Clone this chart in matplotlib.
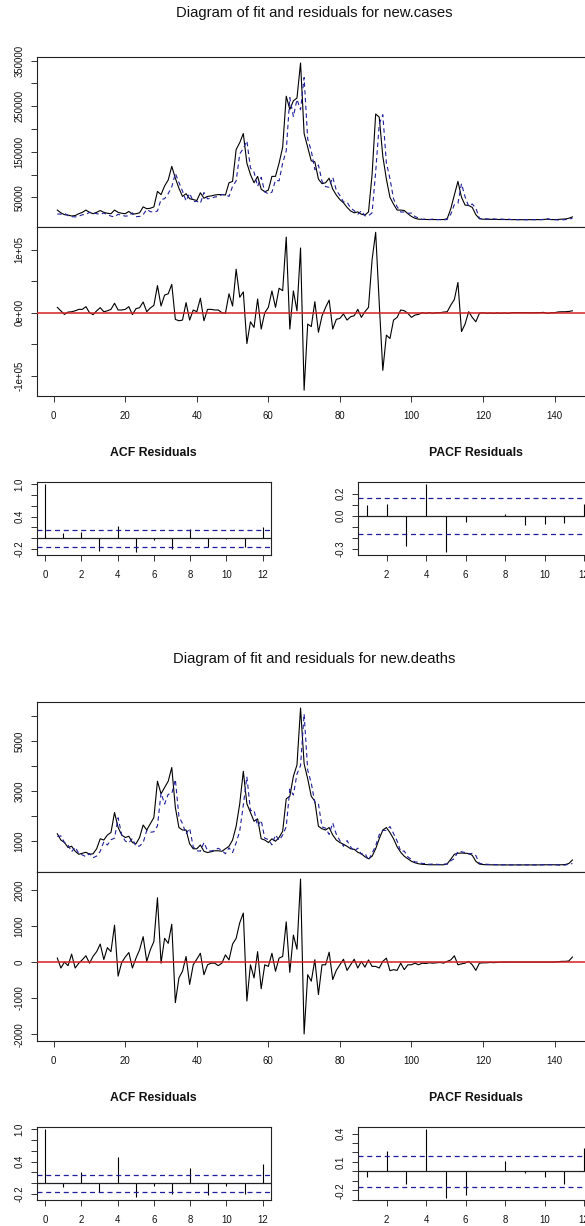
import numpy as np
import matplotlib.pyplot as plt

W, H = 585, 1226
plt.rcParams['font.family'] = ['Liberation Sans', 'DejaVu Sans']

# weekly index 1..145
weeks = np.arange(1, 146)

cases_actual = [
    22000, 16000, 12000, 11000, 9000, 10000, 14000, 17000, 22000, 17000,
    14000, 17000, 21000, 17000, 15000, 14000, 22000, 17000, 15000, 14000,
    19000, 13000, 14000, 16000, 29000, 25000, 26000, 29000, 63000, 56000,
    75000, 88000, 118000, 92000, 70000, 52000, 58000, 47000, 45000, 43000,
    60000, 48000, 52000, 53000, 55000, 56000, 56000, 55000, 82000, 85000,
    155000, 170000, 190000, 125000, 100000, 82000, 96000, 68000, 62000, 66000,
    96000, 96000, 125000, 160000, 272000, 243000, 262000, 268000, 345000, 190000,
    160000, 130000, 128000, 90000, 80000, 82000, 92000, 68000, 55000, 45000,
    38000, 28000, 20000, 16000, 18000, 13000, 11000, 18000, 100000, 233000,
    226000, 140000, 90000, 50000, 35000, 22000, 22000, 21000, 14000, 8000,
    4000, 2000, 1500, 1300, 1200, 1200, 1100, 1100, 1200, 3000,
    25000, 55000, 85000, 50000, 33000, 32000, 28000, 12000, 3000, 2000,
    1800, 1500, 1500, 1400, 1300, 1200, 1200, 1100, 1000, 1000,
    900, 900, 900, 900, 1000, 1100, 1500, 2000, 1200, 1000,
    1500, 2000, 2500, 4000, 7000]

cases_resid = [
    8500, 3000, -2700, 1000, 1500, 3000, 5300, 5300, 9600, 0,
    -3000, 3000, 8000, 1500, 3000, 5300, 15000, 4300, 4300, 5300,
    9600, -3000, 6400, 8000, 17000, 1600, 7400, 11700, 43000, 10600,
    28000, 30000, 45000, -10600, -12800, -11700, 16000, -11700, 4300, 1600,
    23000, -12800, 5300, 5300, 4300, 4300, 0, -1000, 30000, 10600,
    69000, 24500, 33000, -49000, -14400, -23400, 21800, -26000, 0, 8500,
    34600, 8500, 38800, 35000, 120000, -26000, 34600, 3000, 102700, -123000,
    -18000, -22000, 17500, -31000, -5300, 8500, 20000, -26000, -10600, -9000,
    -2000, -11700, -6400, -4800, 5300, -7400, 1600, 8500, 84000, 127600,
    15000, -91500, -35600, -41000, -11700, -7400, 4300, 3200, -1000, -7400,
    -3700, -2700, 0, -1000, 0, -1000, 0, 0, 1000, 1500,
    12000, 21000, 48000, -30000, -18000, 1600, -7400, -14400, -1000, 0,
    -1000, -500, -1200, -300, -1000, -400, -1100, 0, 200, 0,
    100, 0, -100, 0, 100, 200, 500, -1200, 0, 0,
    1200, 1500, 1500, 2000, 3000]

deaths_actual = [
    1300, 1050, 950, 750, 800, 600, 480, 520, 560, 480,
    500, 700, 1100, 1050, 1250, 1350, 2150, 1550, 1250, 1150,
    1200, 950, 900, 1150, 1650, 1450, 1700, 1950, 3400, 2900,
    3150, 3400, 3950, 2350, 1550, 1450, 1450, 900, 700, 700,
    850, 600, 550, 580, 620, 620, 600, 700, 800, 1050,
    1600, 2500, 3800, 2500, 2150, 1800, 1900, 1100, 1050, 950,
    1100, 1000, 1150, 1400, 2700, 2800, 3600, 4050, 6330, 4100,
    3500, 2800, 2600, 1600, 1500, 1450, 1550, 1250, 1050, 950,
    880, 800, 700, 680, 560, 500, 380, 300, 400, 700,
    1100, 1450, 1550, 1350, 1100, 780, 560, 400, 300, 200,
    140, 100, 80, 70, 60, 60, 60, 60, 60, 100,
    280, 480, 520, 530, 520, 510, 440, 200, 90, 70,
    60, 60, 55, 55, 55, 55, 55, 55, 55, 55,
    55, 55, 55, 55, 55, 55, 60, 60, 60, 60,
    60, 60, 70, 110, 250]

deaths_resid = [
    110, -165, 0, -100, 220, -165, -30, 65, 175, -30,
    160, 290, 500, 70, 400, 290, 1025, -390, -10, 140,
    265, -165, 110, 340, 705, 20, 340, 570, 1785, -30,
    660, 520, 1050, -1125, -440, -255, 155, -620, -75, 80,
    245, -350, -75, -30, -30, -100, -30, 200, 60, 500,
    660, 1090, 1360, -1080, -75, -440, 290, -740, -75, -120,
    245, -255, 110, 155, 1115, -285, 750, 355, 2305, -1995,
    -350, -530, 65, -900, -75, -75, 275, -485, -230, -75,
    80, -230, -75, 80, -165, 20, -140, 60, -120, -120,
    -165, 20, 110, -240, -210, -230, -30, -210, -75, -75,
    -30, -75, -30, -40, -20, -30, -20, -10, -30, 20,
    60, 175, -75, -50, -30, 20, -75, -230, -30, -20,
    -20, -10, -15, -10, 0, -5, 0, 0, 0, 0,
    0, 0, 0, 0, 0, 0, 0, 0, 0, 0,
    10, 20, 20, 30, 140]

acf_lags = np.arange(0, 13)
pacf_lags = np.arange(1, 13)
cases_acf = [1.0, 0.105, 0.11, -0.24, 0.22, -0.26, -0.04, -0.2, 0.165, -0.16, -0.01, -0.16, 0.21]
cases_pacf = [0.096, 0.105, -0.27, 0.286, -0.33, -0.06, 0.0, 0.015, -0.08, -0.072, -0.063, 0.105]
deaths_acf = [1.0, -0.06, 0.215, -0.17, 0.48, -0.26, -0.05, -0.2, 0.29, -0.21, -0.05, -0.19, 0.36]
deaths_pacf = [-0.064, 0.22, -0.134, 0.45, -0.28, -0.25, 0.0, 0.11, -0.014, -0.064, -0.134, 0.25]

conf = 1.96 / np.sqrt(len(weeks))

fig = plt.figure(figsize=(W / 100, H / 100), dpi=100)


def box(x0, y0, x1, y1):
    return fig.add_axes([x0 / W, 1 - y1 / H, (x1 - x0) / W, (y1 - y0) / H])


def style(ax):
    for s in ax.spines.values():
        s.set_linewidth(0.8)
        s.set_color('#222222')
    ax.tick_params(direction='out', length=4.3, width=0.7, labelsize=6.9,
                   color='#333333', labelcolor='#111111')
    ax.tick_params(axis='y', pad=4.5)
    ax.tick_params(axis='x', pad=6.5)


def yaxis(ax, ticks, labels):
    ax.set_yticks(ticks)
    ax.set_yticklabels(labels, rotation=90, va='center')


blue = '#1f1f9a'
red = '#d42020'


def block(dy, name, actual, resid, top_ylim, res_ylim, top_ticks, top_labels,
          res_ticks, res_labels, acf, pacf, acf_ylim, pacf_ylim,
          pacf_ticks, pacf_labels):
    actual = np.array(actual, dtype=float)
    resid = np.array(resid, dtype=float)
    fitted = actual - resid

    fig.text(314 / W, 1 - (13.5 + dy) / H, 'Diagram of fit and residuals for ' + name,
             ha='center', va='center', fontsize=10.7, color='#111111')

    ax1 = box(36.7, 56.7 + dy, 593, 226.7 + dy)
    ax1.plot(weeks, actual, color='black', lw=0.8)
    ax1.plot(weeks, fitted, color=blue, lw=0.8, dashes=(4, 3))
    ax1.set_xlim(-4.76, 150.76)
    ax1.set_ylim(*top_ylim)
    style(ax1)
    ax1.tick_params(axis='x', bottom=False, labelbottom=False)
    yaxis(ax1, top_ticks, top_labels)

    ax2 = box(36.7, 226.7 + dy, 593, 396 + dy)
    ax2.plot(weeks, resid, color='black', lw=0.8)
    ax2.axhline(0, color=red, lw=1.1, zorder=3)
    ax2.set_xlim(-4.76, 150.76)
    ax2.set_ylim(*res_ylim)
    style(ax2)
    ax2.set_xticks(np.arange(0, 141, 20))
    yaxis(ax2, res_ticks, res_labels)

    ax3 = box(36.7, 482.3 + dy, 271, 555.3 + dy)
    ax3.vlines(acf_lags, 0, acf, color='black', lw=0.8)
    ax3.axhline(0, color='#222222', lw=0.9)
    for c in (conf, -conf):
        ax3.axhline(c, color=blue, lw=0.9, dashes=(4, 3))
    ax3.set_xlim(-0.46, 12.46)
    ax3.set_ylim(*acf_ylim)
    style(ax3)
    ax3.set_xticks(np.arange(0, 13, 2))
    yaxis(ax3, np.arange(-0.2, 1.01, 0.2),
          ['-0.2', '', '', '0.4', '', '', '1.0'])
    fig.text(153.8 / W, 1 - (453.3 + dy) / H, 'ACF Residuals', ha='center',
             va='center', fontsize=8.8, weight='bold', color='#111111')

    ax4 = box(358.3, 482.3 + dy, 592.7, 555.3 + dy)
    ax4.vlines(pacf_lags, 0, pacf, color='black', lw=0.8)
    ax4.axhline(0, color='#222222', lw=0.9)
    for c in (conf, -conf):
        ax4.axhline(c, color=blue, lw=0.9, dashes=(4, 3))
    ax4.set_xlim(0.56, 12.44)
    ax4.set_ylim(*pacf_ylim)
    style(ax4)
    ax4.set_xticks(np.arange(2, 13, 2))
    yaxis(ax4, pacf_ticks, pacf_labels)
    fig.text(475.5 / W, 1 - (453.3 + dy) / H, 'PACF Residuals', ha='center',
             va='center', fontsize=8.8, weight='bold', color='#111111')


block(0, 'new.cases', cases_actual, cases_resid,
      (-14500, 358800), (-132200, 136500),
      np.arange(50000, 350001, 50000),
      ['50000', '', '150000', '', '250000', '', '350000'],
      [-1e5, -5e4, 0, 5e4, 1e5], ['-1e+05', '', '0e+00', '', '1e+05'],
      cases_acf, cases_pacf, (-0.315, 1.037), (-0.358, 0.302),
      [-0.3, -0.2, -0.1, 0.0, 0.1, 0.2], ['-0.3', '', '', '0.0', '', '0.2'])

block(645, 'new.deaths', deaths_actual, deaths_resid,
      (-217, 6582), (-2190, 2508),
      np.arange(1000, 6001, 1000),
      ['1000', '', '3000', '', '5000', ''],
      [-2000, -1000, 0, 1000, 2000], ['-2000', '-1000', '0', '1000', '2000'],
      deaths_acf, deaths_pacf, (-0.315, 1.037), (-0.307, 0.466),
      [-0.3, -0.2, -0.1, 0.0, 0.1, 0.2, 0.3, 0.4],
      ['', '-0.2', '', '', '0.1', '', '', '0.4'])

fig.savefig('out.png', dpi=100)
